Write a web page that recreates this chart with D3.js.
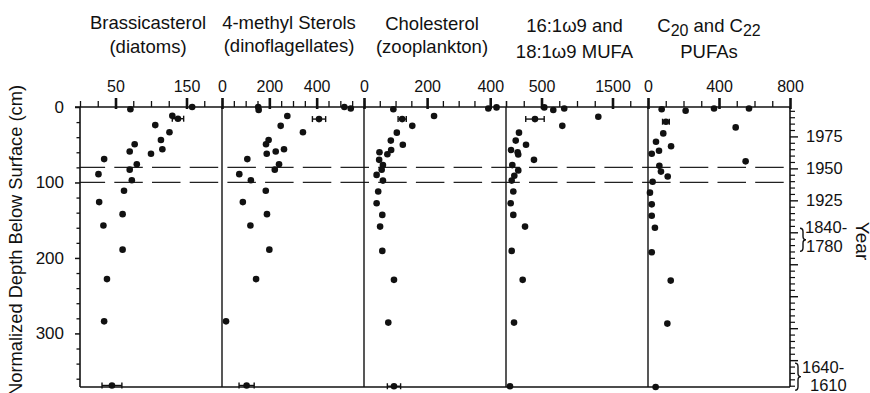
<!DOCTYPE html>
<html><head><meta charset="utf-8">
<script src="https://cdn.jsdelivr.net/npm/d3@7"></script>
<style>
html,body{margin:0;padding:0;background:#fff;}
svg{display:block;font-family:"Liberation Sans",Arial,Helvetica,sans-serif;}
</style></head><body>
<svg id="chart" width="870" height="393"></svg>
<script>
// ---------------- data ----------------
const depthTicks = [0, 100, 200, 300];
const depthMax = 371;
const yearMajors = [1975, 1950, 1925, 1900, 1875, 1850, 1825, 1800];
const yearLabels = [1975, 1950, 1925];
const yearRange = [1998, 1779];
const dashedDepths = [80, 100];
const bracketLabels = [["1840-", "1780"], ["1640-", "1610"]];

const titles = [
  ["Brassicasterol", "(diatoms)"],
  ["4-methyl Sterols", "(dinoflagellates)"],
  ["Cholesterol", "(zooplankton)"],
  ["16:1\u03c99 and", "18:1\u03c99 MUFA"],
  ["C_{20} and C_{22}", "PUFAs"]
];
const axisMax = [200, 600, 450, 2000, 800];
const axisLabels = [[50, 150], [0, 200, 400], [0, 200, 400], [500, 1500], [0, 400, 800]];
const axisMinorStep = [25, 50, 50, 250, 100];

// [depth, value]
const brassicasterol = [[0,158],[3,71],[11.5,130],[24,106],[33.5,126],[43.7,114],[49.4,77],[56,116],[59,70],[62,100],[69,34],[76,80],[83,70],[89,26],[97,73],[111,62],[126,27],[142,60],[157,33],[189,60],[228,38],[284,34]];
const methylSterols = [[0,153],[4,155],[0,517],[2,544],[12,276],[25,248],[33.5,342],[43.7,197],[49.4,186],[56,262],[59,227],[62,189],[69,107],[76,241],[83,223],[89,73],[97,122],[111,185],[126,88],[142,190],[157,120],[189,200],[228,144],[284,17]];
const cholesterol = [[3,93],[2,394],[0.5,420],[12,222],[25,153],[34,104],[44.5,85],[50,123],[57,86],[60,49],[62.6,74],[70,48],[77,60],[83,56],[90,40],[97.5,60],[112,45],[127.6,40],[143,58],[158.5,51],[190.7,58],[229,95],[285.7,77]];
const mufa = [[0.5,539],[4,666],[2,820],[13,1300],[25,793],[34,183],[44.5,137],[50,282],[57,70],[60,164],[63,172],[70,394],[77,89],[84,173],[91,117],[97.5,80],[112,103],[127.6,66],[143,103],[158.5,268],[190.7,80],[229,235],[285.7,113],[370,56]];
const pufa = [[3,77],[5,212],[2,372],[2,569],[27,494],[35,86],[46,45],[52,130],[58,62],[62,21],[72,550],[78,64],[85.6,73],[92,111],[99,26],[113.5,11],[129,21],[144,21],[160,39],[192.5,21],[230,128],[287,109],[371,43]];
// [depth, value, half-width]
const brassicasterolErr = [[15.5,138,8],[369,45,14]];
const methylSterolsErr = [[16,410,28],[369,104,32]];
const cholesterolErr = [[16,121,13],[370,95,21]];
const mufaErr = [[16,408,130]];
const pufaErr = [[19.5,101,19]];

const seriesPoints = [brassicasterol, methylSterols, cholesterol, mufa, pufa];
const seriesErr = [brassicasterolErr, methylSterolsErr, cholesterolErr, mufaErr, pufaErr];

// ---------------- layout ----------------
(function () {
const pL = 80, pT = 107, pB = 387, panelW = 142;
const pR = pL + panelW * 5;
const ink = "#111";
const svg = d3.select("#chart");

const y = d3.scaleLinear().domain([0, depthMax]).range([pT, pB]);
const yearScale = d3.scaleLinear().domain(yearRange).range([pT, pB]);

const titleDx = [-3, -4, -3, -2.5, -10];
const titleBase1 = [28.5, 29, 30, 31.5, 32];
const titleBase2 = [52.5, 52, 52.5, 58, 58.3];

// dashed lines
svg.append("g").selectAll("line").data(dashedDepths).join("line")
  .attr("x1", pL).attr("x2", pR)
  .attr("y1", d => y(d)).attr("y2", d => y(d))
  .attr("stroke", "#222").attr("stroke-width", 1.3)
  .attr("stroke-dasharray", "28.5,9.2").attr("stroke-dashoffset", 3.4);

// panels
seriesPoints.forEach((pts, i) => {
  const x0 = pL + i * panelW;
  const x = d3.scaleLinear().domain([0, axisMax[i]]).range([x0, x0 + panelW]);
  const g = svg.append("g");

  const minors = d3.range(0, axisMax[i] + 1e-9, axisMinorStep[i]).filter(v => !axisLabels[i].includes(v));
  const minorAxis = d3.axisTop(x).tickValues(minors).tickSize(6).tickFormat("");
  const gm = g.append("g").attr("transform", `translate(0,${pT})`).call(minorAxis);
  gm.select(".domain").remove();
  gm.selectAll("line").attr("stroke", ink).attr("stroke-width", 1.3);

  const majorAxis = d3.axisTop(x).tickValues(axisLabels[i]).tickSize(9).tickPadding(6).tickFormat(d3.format("d"));
  const gM = g.append("g").attr("transform", `translate(0,${pT})`).call(majorAxis);
  gM.select(".domain").remove();
  gM.selectAll("line").attr("stroke", ink).attr("stroke-width", 2.6).attr("y1", 2);
  gM.selectAll("text").attr("font-size", 16).attr("fill", ink)
    .attr("font-family", '"Liberation Sans",Arial,sans-serif');

  if (i > 0) {
    g.append("line").attr("x1", x0).attr("x2", x0).attr("y1", pT).attr("y2", pB)
      .attr("stroke", ink).attr("stroke-width", 1.4);
  }

  const cx = x0 + panelW / 2 + titleDx[i];
  titles[i].forEach((line, li) => {
    const t = g.append("text").attr("x", cx).attr("y", li === 0 ? titleBase1[i] : titleBase2[i])
      .attr("text-anchor", "middle").attr("font-size", 18.5).attr("fill", ink);
    const parts = line.split(/(_\{[^}]*\})/).filter(s => s.length);
    let sub = false;
    parts.forEach(p => {
      if (p.startsWith("_{")) {
        t.append("tspan").attr("dy", 4).attr("font-size", 16).text(p.slice(2, -1));
        sub = true;
      } else {
        t.append("tspan").attr("dy", sub ? -4 : 0).text(p);
        sub = false;
      }
    });
  });

  const eg = g.append("g").attr("stroke", ink).attr("stroke-width", 1.4);
  seriesErr[i].forEach(([d, v, e]) => {
    eg.append("line").attr("x1", x(v - e)).attr("x2", x(v + e)).attr("y1", y(d)).attr("y2", y(d));
    eg.append("line").attr("x1", x(v - e)).attr("x2", x(v - e)).attr("y1", y(d) - 3).attr("y2", y(d) + 3);
    eg.append("line").attr("x1", x(v + e)).attr("x2", x(v + e)).attr("y1", y(d) - 3).attr("y2", y(d) + 3);
  });
  g.append("g").selectAll("circle").data(pts.concat(seriesErr[i])).join("circle")
    .attr("cx", d => x(d[1])).attr("cy", d => y(d[0])).attr("r", 3.3).attr("fill", ink);
});

svg.append("line").attr("x1", pL - 5).attr("x2", pR).attr("y1", pT).attr("y2", pT)
  .attr("stroke", ink).attr("stroke-width", 1.6);
svg.append("line").attr("x1", pL).attr("x2", pR).attr("y1", pB).attr("y2", pB)
  .attr("stroke", ink).attr("stroke-width", 1.4);

// left axis
const minorDepth = d3.range(0, depthMax, 20).filter(v => !depthTicks.includes(v));
const gl1 = svg.append("g").attr("transform", `translate(${pL},0)`)
  .call(d3.axisLeft(y).tickValues(minorDepth).tickSize(3.5).tickFormat(""));
gl1.select(".domain").remove();
gl1.selectAll("line").attr("stroke", ink).attr("stroke-width", 1.3);
const gl = svg.append("g").attr("transform", `translate(${pL},0)`)
  .call(d3.axisLeft(y).tickValues(depthTicks).tickSize(5).tickPadding(11).tickFormat(d3.format("d")));
gl.select(".domain").remove();
gl.selectAll("line").attr("stroke", ink).attr("stroke-width", 1.5);
gl.selectAll("text").attr("font-size", 17).attr("fill", ink)
  .attr("font-family", '"Liberation Sans",Arial,sans-serif');
svg.append("line").attr("x1", pL).attr("x2", pL).attr("y1", pT).attr("y2", pB)
  .attr("stroke", ink).attr("stroke-width", 1.6);

svg.append("text").attr("transform", `translate(22,85) rotate(-90)`)
  .attr("text-anchor", "end").attr("font-size", 18.3).attr("fill", ink)
  .text("Normalized Depth Below Surface (cm)");

// right axis
const yearMinor = d3.range(1995, 1779, -5).filter(v => !yearMajors.includes(v));
const gr1 = svg.append("g").attr("transform", `translate(${pR},0)`)
  .call(d3.axisRight(yearScale).tickValues(yearMinor).tickSize(5).tickFormat(""));
gr1.select(".domain").remove();
gr1.selectAll("line").attr("stroke", ink).attr("stroke-width", 1.2);
const gr = svg.append("g").attr("transform", `translate(${pR},0)`)
  .call(d3.axisRight(yearScale).tickValues(yearMajors).tickSize(8).tickPadding(8)
    .tickFormat(v => yearLabels.includes(v) ? String(v) : ""));
gr.select(".domain").remove();
gr.selectAll("line").attr("stroke", ink).attr("stroke-width", 1.4);
gr.selectAll("text").attr("font-size", 16.5).attr("fill", ink)
  .attr("font-family", '"Liberation Sans",Arial,sans-serif');
svg.append("line").attr("x1", pR).attr("x2", pR).attr("y1", pT).attr("y2", pB)
  .attr("stroke", ink).attr("stroke-width", 1.6);

// bracketed year ranges
function brace(x0, ya, yb, w) {
  const ym = (ya + yb) / 2, xm = x0 + w / 2, r = 3.5;
  return `M${x0},${ya} Q${xm},${ya} ${xm},${ya + r} L${xm},${ym - r} Q${xm},${ym} ${x0 + w},${ym}` +
         ` Q${xm},${ym} ${xm},${ym + r} L${xm},${yb - r} Q${xm},${yb} ${x0},${yb}`;
}
const bracketAnchors = [yearScale(1900), yearScale(1800)];
const bracketX = [[805, 806], [802, 810]];
const bracketDy = [[1, 20], [13, 31]];
const braceGeom = [[800, -4, 19], [795, 3, 30]];
bracketLabels.forEach((lab, k) => {
  const yc = bracketAnchors[k];
  svg.append("text").attr("x", bracketX[k][0]).attr("y", yc + bracketDy[k][0]).attr("font-size", 16.5).attr("fill", ink).text(lab[0]);
  svg.append("text").attr("x", bracketX[k][1]).attr("y", yc + bracketDy[k][1]).attr("font-size", 16.5).attr("fill", ink).text(lab[1]);
  svg.append("path").attr("d", brace(braceGeom[k][0], yc + braceGeom[k][1], yc + braceGeom[k][2], 6))
    .attr("fill", "none").attr("stroke", ink).attr("stroke-width", 1.4);
});

svg.append("text").attr("transform", `translate(856,241) rotate(90)`)
  .attr("text-anchor", "middle").attr("font-size", 19).attr("fill", ink).text("Year");
})();
</script>
</body></html>
